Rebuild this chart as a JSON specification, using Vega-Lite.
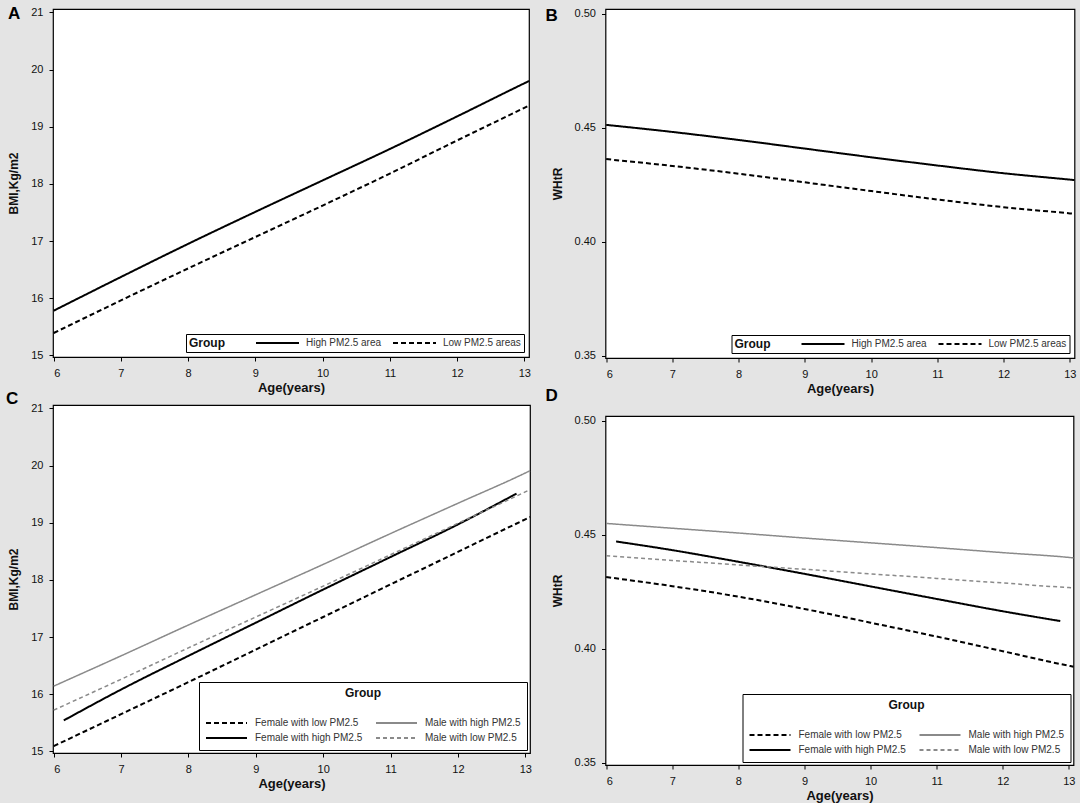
{
  "$schema": "https://vega.github.io/schema/vega-lite/v6.json",
  "background": "#e4e4e4",
  "padding": {"left": 5, "top": 4, "right": 0, "bottom": 0},
  "datasets": {
    "a": [
      {"age": 6, "value": 15.78, "group": "High PM2.5 area"},
      {"age": 7, "value": 16.37, "group": "High PM2.5 area"},
      {"age": 8, "value": 16.95, "group": "High PM2.5 area"},
      {"age": 9, "value": 17.51, "group": "High PM2.5 area"},
      {"age": 10, "value": 18.06, "group": "High PM2.5 area"},
      {"age": 11, "value": 18.61, "group": "High PM2.5 area"},
      {"age": 12, "value": 19.18, "group": "High PM2.5 area"},
      {"age": 13, "value": 19.76, "group": "High PM2.5 area"},
      {"age": 13.07, "value": 19.80, "group": "High PM2.5 area"},
      {"age": 6, "value": 15.39, "group": "Low PM2.5 areas"},
      {"age": 7, "value": 15.96, "group": "Low PM2.5 areas"},
      {"age": 8, "value": 16.52, "group": "Low PM2.5 areas"},
      {"age": 9, "value": 17.07, "group": "Low PM2.5 areas"},
      {"age": 10, "value": 17.62, "group": "Low PM2.5 areas"},
      {"age": 11, "value": 18.18, "group": "Low PM2.5 areas"},
      {"age": 12, "value": 18.76, "group": "Low PM2.5 areas"},
      {"age": 13, "value": 19.33, "group": "Low PM2.5 areas"},
      {"age": 13.07, "value": 19.37, "group": "Low PM2.5 areas"}
    ],
    "b": [
      {"age": 6, "value": 0.4512, "group": "High PM2.5 area"},
      {"age": 7, "value": 0.4481, "group": "High PM2.5 area"},
      {"age": 8, "value": 0.4446, "group": "High PM2.5 area"},
      {"age": 9, "value": 0.4408, "group": "High PM2.5 area"},
      {"age": 10, "value": 0.4370, "group": "High PM2.5 area"},
      {"age": 11, "value": 0.4334, "group": "High PM2.5 area"},
      {"age": 12, "value": 0.4300, "group": "High PM2.5 area"},
      {"age": 13, "value": 0.4272, "group": "High PM2.5 area"},
      {"age": 13.07, "value": 0.4270, "group": "High PM2.5 area"},
      {"age": 6, "value": 0.4362, "group": "Low PM2.5 areas"},
      {"age": 7, "value": 0.4332, "group": "Low PM2.5 areas"},
      {"age": 8, "value": 0.4298, "group": "Low PM2.5 areas"},
      {"age": 9, "value": 0.4260, "group": "Low PM2.5 areas"},
      {"age": 10, "value": 0.4222, "group": "Low PM2.5 areas"},
      {"age": 11, "value": 0.4185, "group": "Low PM2.5 areas"},
      {"age": 12, "value": 0.4151, "group": "Low PM2.5 areas"},
      {"age": 13, "value": 0.4124, "group": "Low PM2.5 areas"},
      {"age": 13.07, "value": 0.4122, "group": "Low PM2.5 areas"}
    ],
    "c": [
      {"age": 6, "value": 15.09, "group": "Female with low PM2.5"},
      {"age": 7, "value": 15.65, "group": "Female with low PM2.5"},
      {"age": 8, "value": 16.21, "group": "Female with low PM2.5"},
      {"age": 9, "value": 16.78, "group": "Female with low PM2.5"},
      {"age": 10, "value": 17.35, "group": "Female with low PM2.5"},
      {"age": 11, "value": 17.92, "group": "Female with low PM2.5"},
      {"age": 12, "value": 18.49, "group": "Female with low PM2.5"},
      {"age": 13, "value": 19.06, "group": "Female with low PM2.5"},
      {"age": 13.07, "value": 19.10, "group": "Female with low PM2.5"},
      {"age": 6.15, "value": 15.54, "group": "Female with high PM2.5"},
      {"age": 7, "value": 16.08, "group": "Female with high PM2.5"},
      {"age": 8, "value": 16.67, "group": "Female with high PM2.5"},
      {"age": 9, "value": 17.25, "group": "Female with high PM2.5"},
      {"age": 10, "value": 17.83, "group": "Female with high PM2.5"},
      {"age": 11, "value": 18.40, "group": "Female with high PM2.5"},
      {"age": 12, "value": 18.97, "group": "Female with high PM2.5"},
      {"age": 12.87, "value": 19.51, "group": "Female with high PM2.5"},
      {"age": 6, "value": 16.14, "group": "Male with high PM2.5"},
      {"age": 7, "value": 16.67, "group": "Male with high PM2.5"},
      {"age": 8, "value": 17.21, "group": "Male with high PM2.5"},
      {"age": 9, "value": 17.74, "group": "Male with high PM2.5"},
      {"age": 10, "value": 18.27, "group": "Male with high PM2.5"},
      {"age": 11, "value": 18.81, "group": "Male with high PM2.5"},
      {"age": 12, "value": 19.34, "group": "Male with high PM2.5"},
      {"age": 13, "value": 19.87, "group": "Male with high PM2.5"},
      {"age": 13.07, "value": 19.91, "group": "Male with high PM2.5"},
      {"age": 6, "value": 15.72, "group": "Male with low PM2.5"},
      {"age": 7, "value": 16.26, "group": "Male with low PM2.5"},
      {"age": 8, "value": 16.81, "group": "Male with low PM2.5"},
      {"age": 9, "value": 17.35, "group": "Male with low PM2.5"},
      {"age": 10, "value": 17.89, "group": "Male with low PM2.5"},
      {"age": 11, "value": 18.44, "group": "Male with low PM2.5"},
      {"age": 12, "value": 18.99, "group": "Male with low PM2.5"},
      {"age": 13, "value": 19.54, "group": "Male with low PM2.5"},
      {"age": 13.07, "value": 19.58, "group": "Male with low PM2.5"}
    ],
    "d": [
      {"age": 6, "value": 0.4314, "group": "Female with low PM2.5"},
      {"age": 7, "value": 0.4274, "group": "Female with low PM2.5"},
      {"age": 8, "value": 0.4228, "group": "Female with low PM2.5"},
      {"age": 9, "value": 0.4174, "group": "Female with low PM2.5"},
      {"age": 10, "value": 0.4114, "group": "Female with low PM2.5"},
      {"age": 11, "value": 0.4053, "group": "Female with low PM2.5"},
      {"age": 12, "value": 0.3989, "group": "Female with low PM2.5"},
      {"age": 13, "value": 0.3925, "group": "Female with low PM2.5"},
      {"age": 13.07, "value": 0.3921, "group": "Female with low PM2.5"},
      {"age": 6.15, "value": 0.4470, "group": "Female with high PM2.5"},
      {"age": 7, "value": 0.4432, "group": "Female with high PM2.5"},
      {"age": 8, "value": 0.4381, "group": "Female with high PM2.5"},
      {"age": 9, "value": 0.4328, "group": "Female with high PM2.5"},
      {"age": 10, "value": 0.4273, "group": "Female with high PM2.5"},
      {"age": 11, "value": 0.4218, "group": "Female with high PM2.5"},
      {"age": 12, "value": 0.4164, "group": "Female with high PM2.5"},
      {"age": 12.87, "value": 0.4121, "group": "Female with high PM2.5"},
      {"age": 6, "value": 0.4549, "group": "Male with high PM2.5"},
      {"age": 7, "value": 0.4528, "group": "Male with high PM2.5"},
      {"age": 8, "value": 0.4507, "group": "Male with high PM2.5"},
      {"age": 9, "value": 0.4485, "group": "Male with high PM2.5"},
      {"age": 10, "value": 0.4464, "group": "Male with high PM2.5"},
      {"age": 11, "value": 0.4443, "group": "Male with high PM2.5"},
      {"age": 12, "value": 0.4421, "group": "Male with high PM2.5"},
      {"age": 13, "value": 0.4400, "group": "Male with high PM2.5"},
      {"age": 13.07, "value": 0.4398, "group": "Male with high PM2.5"},
      {"age": 6, "value": 0.4407, "group": "Male with low PM2.5"},
      {"age": 7, "value": 0.4387, "group": "Male with low PM2.5"},
      {"age": 8, "value": 0.4367, "group": "Male with low PM2.5"},
      {"age": 9, "value": 0.4348, "group": "Male with low PM2.5"},
      {"age": 10, "value": 0.4328, "group": "Male with low PM2.5"},
      {"age": 11, "value": 0.4308, "group": "Male with low PM2.5"},
      {"age": 12, "value": 0.4288, "group": "Male with low PM2.5"},
      {"age": 13, "value": 0.4268, "group": "Male with low PM2.5"},
      {"age": 13.07, "value": 0.4267, "group": "Male with low PM2.5"}
    ]
  },
  "config": {
    "font": "Liberation Sans",
    "view": {"stroke": "black", "strokeWidth": 1.2, "fill": "white"},
    "axis": {
      "domain": false, "grid": false, "tickColor": "black", "tickSize": 4,
      "labelFontSize": 11, "labelColor": "#111",
      "titleFontWeight": "bold", "titleColor": "#111"
    },
    "axisX": {"titleFontSize": 13, "labelPadding": 6, "titlePadding": 3},
    "axisY": {"titleFontSize": 12, "labelPadding": 6, "titlePadding": 10},
    "title": {
      "anchor": "start", "frame": "group", "fontSize": 17, "fontWeight": "bold",
      "color": "black", "offset": 0, "baseline": "alphabetic"
    },
    "legend": {
      "strokeColor": "black", "fillColor": "white", "symbolType": "stroke",
      "symbolStrokeWidth": 2, "labelFontSize": 10, "labelColor": "#333",
      "titleFontSize": 12, "titleFontWeight": "bold", "titleColor": "#111",
      "clipHeight": 12
    },
    "line": {"interpolate": "monotone"}
  },
  "spacing": 9.5,
  "resolve": {
    "scale": {"x": "independent", "y": "independent", "color": "independent", "strokeDash": "independent"},
    "legend": {"color": "independent", "strokeDash": "independent"}
  },
  "hconcat": [
    {
      "bounds": "flush",
      "spacing": 48,
      "resolve": {
        "scale": {"x": "independent", "y": "independent", "color": "independent", "strokeDash": "independent"},
        "legend": {"color": "independent", "strokeDash": "independent"}
      },
      "vconcat": [
        {
          "width": 476, "height": 348,
          "title": {"text": "A", "dx": -45, "dy": 21},
          "data": {"name": "a"},
          "mark": {"type": "line", "color": "black", "strokeWidth": 2},
          "encoding": {
            "x": {"field": "age", "type": "quantitative", "scale": {"domain": [5.99, 13.07], "nice": false, "zero": false}, "axis": {"values": [6, 7, 8, 9, 10, 11, 12, 13], "title": "Age(years)"}},
            "y": {"field": "value", "type": "quantitative", "scale": {"domain": [14.97, 21.06], "nice": false, "zero": false}, "axis": {"values": [15, 16, 17, 18, 19, 20, 21], "title": "BMI,Kg/m2"}},
            "strokeDash": {
              "field": "group", "type": "nominal",
              "scale": {"domain": ["High PM2.5 area", "Low PM2.5 areas"], "range": [[1, 0], [5, 3]]},
              "legend": {"title": "Group", "orient": "bottom-right", "offset": 5, "direction": "horizontal", "titleOrient": "left", "titlePadding": 30, "padding": 3, "symbolSize": 1849, "labelOffset": 6, "columnPadding": 10, "symbolStrokeColor": "black"}
            }
          }
        },
        {
          "width": 477, "height": 348,
          "title": {"text": "C", "dx": -47, "dy": 10},
          "data": {"name": "c"},
          "encoding": {
            "x": {"field": "age", "type": "quantitative", "scale": {"domain": [5.99, 13.07], "nice": false, "zero": false}, "axis": {"values": [6, 7, 8, 9, 10, 11, 12, 13], "title": "Age(years)"}},
            "y": {"field": "value", "type": "quantitative", "scale": {"domain": [14.97, 21.06], "nice": false, "zero": false}, "axis": {"values": [15, 16, 17, 18, 19, 20, 21], "title": "BMI,Kg/m2"}},
            "color": {
              "field": "group", "type": "nominal",
              "scale": {"domain": ["Female with low PM2.5", "Female with high PM2.5", "Male with high PM2.5", "Male with low PM2.5"], "range": ["black", "black", "#8a8a8a", "#8a8a8a"]},
              "legend": {"title": "Group", "orient": "bottom-right", "offset": 3, "columns": 2, "titleOrient": "top", "titleAnchor": "middle", "titlePadding": 17, "padding": 6, "symbolSize": 1681, "labelOffset": 7, "columnPadding": 12, "rowPadding": 3}
            },
            "strokeDash": {
              "field": "group", "type": "nominal",
              "scale": {"domain": ["Female with low PM2.5", "Female with high PM2.5", "Male with high PM2.5", "Male with low PM2.5"], "range": [[5, 3], [1, 0], [1, 0], [4, 3]]},
              "legend": {"title": "Group", "orient": "bottom-right", "offset": 3, "columns": 2, "titleOrient": "top", "titleAnchor": "middle", "titlePadding": 17, "padding": 6, "symbolSize": 1681, "labelOffset": 7, "columnPadding": 12, "rowPadding": 3}
            }
          },
          "layer": [
            {"transform": [{"filter": "indexof(datum.group, 'Female') === 0"}], "mark": {"type": "line", "strokeWidth": 2}},
            {"transform": [{"filter": "indexof(datum.group, 'Male') === 0"}], "mark": {"type": "line", "strokeWidth": 1.5}}
          ]
        }
      ]
    },
    {
      "bounds": "flush",
      "spacing": 58,
      "resolve": {
        "scale": {"x": "independent", "y": "independent", "color": "independent", "strokeDash": "independent"},
        "legend": {"color": "independent", "strokeDash": "independent"}
      },
      "vconcat": [
        {
          "width": 469, "height": 349,
          "title": {"text": "B", "dx": -60, "dy": 21},
          "data": {"name": "b"},
          "mark": {"type": "line", "color": "black", "strokeWidth": 2},
          "encoding": {
            "x": {"field": "age", "type": "quantitative", "scale": {"domain": [5.99, 13.07], "nice": false, "zero": false}, "axis": {"values": [6, 7, 8, 9, 10, 11, 12, 13], "title": "Age(years)"}},
            "y": {"field": "value", "type": "quantitative", "scale": {"domain": [0.349, 0.502], "nice": false, "zero": false}, "axis": {"values": [0.35, 0.4, 0.45, 0.5], "format": ".2f", "title": "WHtR"}},
            "strokeDash": {
              "field": "group", "type": "nominal",
              "scale": {"domain": ["High PM2.5 area", "Low PM2.5 areas"], "range": [[1, 0], [5, 3]]},
              "legend": {"title": "Group", "orient": "bottom-right", "offset": 5, "direction": "horizontal", "titleOrient": "left", "titlePadding": 30, "padding": 3, "symbolSize": 1849, "labelOffset": 6, "columnPadding": 10, "symbolStrokeColor": "black"}
            }
          }
        },
        {
          "width": 468, "height": 349,
          "title": {"text": "D", "dx": -60, "dy": -6},
          "data": {"name": "d"},
          "encoding": {
            "x": {"field": "age", "type": "quantitative", "scale": {"domain": [5.99, 13.07], "nice": false, "zero": false}, "axis": {"values": [6, 7, 8, 9, 10, 11, 12, 13], "title": "Age(years)"}},
            "y": {"field": "value", "type": "quantitative", "scale": {"domain": [0.349, 0.502], "nice": false, "zero": false}, "axis": {"values": [0.35, 0.4, 0.45, 0.5], "format": ".2f", "title": "WHtR"}},
            "color": {
              "field": "group", "type": "nominal",
              "scale": {"domain": ["Female with low PM2.5", "Female with high PM2.5", "Male with high PM2.5", "Male with low PM2.5"], "range": ["black", "black", "#8a8a8a", "#8a8a8a"]},
              "legend": {"title": "Group", "orient": "bottom-right", "offset": 3, "columns": 2, "titleOrient": "top", "titleAnchor": "middle", "titlePadding": 17, "padding": 6, "symbolSize": 1681, "labelOffset": 7, "columnPadding": 12, "rowPadding": 3}
            },
            "strokeDash": {
              "field": "group", "type": "nominal",
              "scale": {"domain": ["Female with low PM2.5", "Female with high PM2.5", "Male with high PM2.5", "Male with low PM2.5"], "range": [[5, 3], [1, 0], [1, 0], [4, 3]]},
              "legend": {"title": "Group", "orient": "bottom-right", "offset": 3, "columns": 2, "titleOrient": "top", "titleAnchor": "middle", "titlePadding": 17, "padding": 6, "symbolSize": 1681, "labelOffset": 7, "columnPadding": 12, "rowPadding": 3}
            }
          },
          "layer": [
            {"transform": [{"filter": "indexof(datum.group, 'Female') === 0"}], "mark": {"type": "line", "strokeWidth": 2}},
            {"transform": [{"filter": "indexof(datum.group, 'Male') === 0"}], "mark": {"type": "line", "strokeWidth": 1.5}}
          ]
        }
      ]
    }
  ]
}
